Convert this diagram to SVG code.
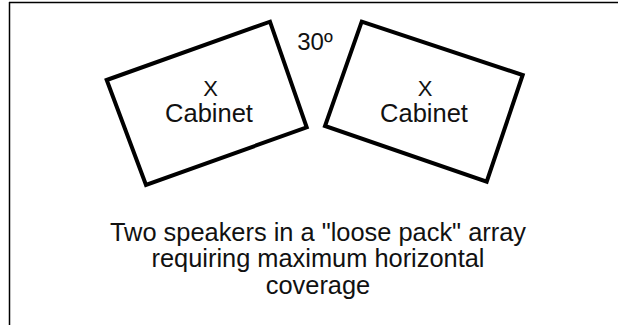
<svg xmlns="http://www.w3.org/2000/svg" width="618" height="325" viewBox="0 0 618 325">
<style>
.frame{stroke:#000;stroke-width:1.5;fill:none}
.cab{fill:#fff;stroke:#000;stroke-width:4;stroke-linejoin:miter}
text{font-family:"Liberation Sans",Arial,sans-serif;fill:#111;text-anchor:middle}
.lbl{font-size:25.5px}
.x{font-size:22px}
.deg{font-size:24px}
.cap{font-size:25.4px}
</style>
<rect width="618" height="325" fill="#fff"/>
<g id="frame">
<line class="frame" x1="9" y1="2.5" x2="618" y2="2.5"/>
<line class="frame" x1="9.5" y1="2" x2="9.5" y2="325"/>
</g>
<g id="left-cabinet">
<polygon class="cab" points="106.7,80 270,21.7 306.7,127.3 146,185"/>
<text class="x" x="210.5" y="96">X</text>
<text class="lbl" x="209" y="122">Cabinet</text>
</g>
<g id="right-cabinet">
<polygon class="cab" points="361.7,21.7 522.7,75 486.7,181.7 325,126"/>
<text class="x" x="425" y="96">X</text>
<text class="lbl" x="424" y="122">Cabinet</text>
</g>
<g id="angle">
<text class="deg" x="315" y="50">30º</text>
</g>
<g id="caption">
<text class="cap" x="318" y="240.5">Two speakers in a "loose pack" array</text>
<text class="cap" x="318" y="267">requiring maximum horizontal</text>
<text class="cap" x="318" y="293.5">coverage</text>
</g>
<g id="connectors"/>
</svg>
